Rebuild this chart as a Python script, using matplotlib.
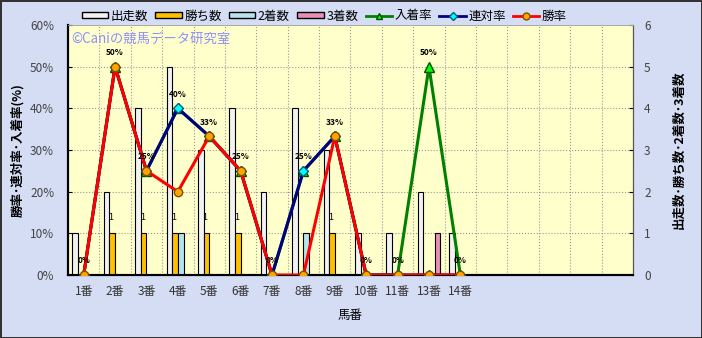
import numpy as np
import matplotlib
matplotlib.use("Agg")
import matplotlib.pyplot as plt
from matplotlib.lines import Line2D
from matplotlib.patches import Patch

plt.rcParams['font.family'] = ['Noto Sans CJK JP', 'DejaVu Sans']

# data
horses = ['1番', '2番', '3番', '4番', '5番', '6番', '7番', '8番', '9番', '10番', '11番', '13番', '14番']
starts = [1, 2, 4, 5, 3, 4, 2, 4, 3, 1, 1, 2, 1]
wins = [0, 1, 1, 1, 1, 1, 0, 0, 1, 0, 0, 0, 0]
seconds = [0, 0, 0, 1, 0, 0, 0, 1, 0, 0, 0, 0, 0]
thirds = [0, 0, 0, 0, 0, 0, 0, 0, 0, 0, 0, 1, 0]
win_rate = [0, 50, 25, 20, 33.3, 25, 0, 0, 33.3, 0, 0, 0, 0]
rentai_rate = [0, 50, 25, 40, 33.3, 25, 0, 25, 33.3, 0, 0, 0, 0]
place_rate = [0, 50, 25, 40, 33.3, 25, 0, 25, 33.3, 0, 0, 50, 0]
place_labels = ['0%', '50%', '25%', '40%', '33%', '25%', '0%', '25%', '33%', '0%', '0%', '50%', '0%']
n_slots = 18

x = np.arange(len(horses))

fig = plt.figure(figsize=(7.02, 3.38), dpi=100)
fig.patch.set_facecolor('#d4ddf4')
fig.patch.set_edgecolor('#333333')
fig.patch.set_linewidth(2)

ax = fig.add_axes([68 / 702, 1 - 275 / 338, 565 / 702, 250 / 338])
ax.set_facecolor('#ffffcc')
ax2 = ax.twinx()

# -------------------------------
# bars (counts, right axis scale)
# -------------------------------
w = 0.18
ax.bar(x - 1.5 * w, starts, w, color='#f2f2f2', edgecolor='black', linewidth=0.8, zorder=3)
ax.bar(x - 0.5 * w, wins, w, color='#ffc000', edgecolor='black', linewidth=0.8, zorder=3)
ax.bar(x + 0.5 * w, seconds, w, color='#b7e4ea', edgecolor='black', linewidth=0.8, zorder=3)
ax.bar(x + 1.5 * w, thirds, w, color='#e88fb8', edgecolor='black', linewidth=0.8, zorder=3)
for i, v in enumerate(wins):
    if v > 0:
        ax.annotate(str(v), (x[i] - 0.5 * w, v), xytext=(-1, 8), textcoords='offset points',
                    ha='center', va='bottom', fontsize=6.5, zorder=2)

ax.set_xlim(-0.5, n_slots - 0.5)
ax.set_ylim(0, 6)
ax.set_yticks(range(7))
ax.yaxis.tick_right()
ax.yaxis.set_label_position('right')
ax.set_xticks(x)
ax.set_xticklabels(horses, fontsize=8.5, color='#333333')
ax.set_xticks(np.arange(n_slots + 1) - 0.5, minor=True)
ax.tick_params(axis='x', which='both', length=0, pad=7)
ax.tick_params(axis='y', direction='in', length=3, labelsize=8.5, labelcolor='#444444', pad=8)
ax.grid(axis='y', linestyle=':', color='#999999', linewidth=0.8)
ax.grid(axis='x', which='minor', linestyle=':', color='#999999', linewidth=0.8)
ax.set_axisbelow(True)
ax.set_xlabel('馬番', fontsize=9, labelpad=8)
ax.set_ylabel('出走数･勝ち数･2着数･3着数', fontsize=9, fontweight='bold', rotation=90, labelpad=16)

# -------------------------------
# lines (rates, left axis scale)
# -------------------------------
ax2.plot(x, place_rate, color='#008000', linewidth=2.2, marker='^', markersize=7,
         markerfacecolor='#00ff00', markeredgecolor='#005000', zorder=4)
ax2.plot(x, rentai_rate, color='#000080', linewidth=2.2, marker='D', markersize=5,
         markerfacecolor='#00ffff', markeredgecolor='#006080', zorder=5)
ax2.plot(x, win_rate, color='#ff0000', linewidth=2.2, marker='o', markersize=6,
         markerfacecolor='#ffa500', markeredgecolor='#805000', zorder=6)
for i, lab in enumerate(place_labels):
    ax2.annotate(lab, (x[i], place_rate[i]), xytext=(0, 7), textcoords='offset points',
                 ha='center', va='bottom', fontsize=6, fontweight='bold', zorder=7)
ax2.set_ylim(0, 60)
ax2.set_yticks(range(0, 61, 10))
ax2.set_yticklabels([f'{v}%' for v in range(0, 61, 10)])
ax2.yaxis.tick_left()
ax2.yaxis.set_label_position('left')
ax2.tick_params(axis='y', direction='in', length=3, labelsize=8.5, labelcolor='#444444', pad=10)
ax2.set_ylabel('勝率･連対率･入着率(%)', fontsize=9, fontweight='bold', labelpad=4)

for a in (ax, ax2):
    a.spines['left'].set_color('black')
    a.spines['left'].set_linewidth(1.5)
    a.spines['bottom'].set_color('black')
    a.spines['bottom'].set_linewidth(1.5)
    a.spines['right'].set_color('#555555')
    a.spines['top'].set_color('#aaaaaa')
    a.spines['top'].set_linewidth(0.6)

ax.text(0.006, 0.945, '©Caniの競馬データ研究室', transform=ax.transAxes, color='#8f8fff',
        fontsize=9.6, ha='left', va='center')

# legend
handles = [
    Patch(facecolor='#f2f2f2', edgecolor='black', label='出走数'),
    Patch(facecolor='#ffc000', edgecolor='black', label='勝ち数'),
    Patch(facecolor='#b7e4ea', edgecolor='black', label='2着数'),
    Patch(facecolor='#e88fb8', edgecolor='black', label='3着数'),
    Line2D([], [], color='#008000', linewidth=2, marker='^', markersize=5,
           markerfacecolor='#00ff00', markeredgecolor='#005000', label='入着率'),
    Line2D([], [], color='#000080', linewidth=2, marker='D', markersize=4,
           markerfacecolor='#00ffff', markeredgecolor='#006080', label='連対率'),
    Line2D([], [], color='#ff0000', linewidth=2, marker='o', markersize=5,
           markerfacecolor='#ffa500', markeredgecolor='#805000', label='勝率'),
]
fig.legend(handles=handles, loc='center', bbox_to_anchor=(0.462, 1 - 16 / 338), ncol=7,
           frameon=False, fontsize=9, handlelength=2.1, handleheight=0.45,
           handletextpad=0.2, columnspacing=0.6)

fig.savefig('out.png', dpi=100, facecolor=fig.get_facecolor(), edgecolor=fig.get_edgecolor())
